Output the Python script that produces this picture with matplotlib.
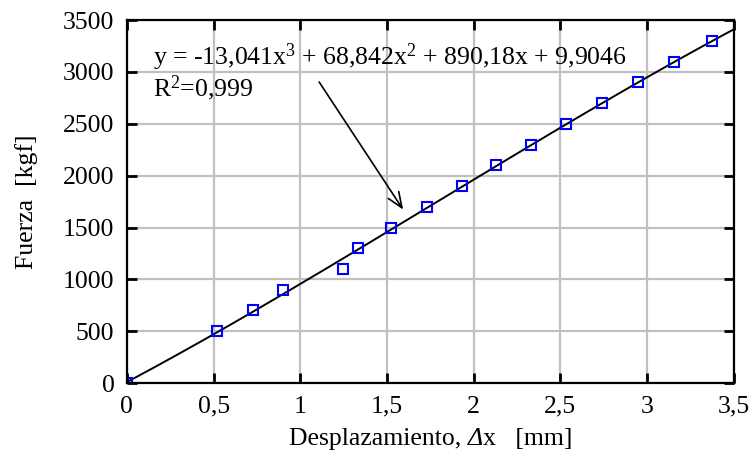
import matplotlib
matplotlib.use("Agg")
import matplotlib.pyplot as plt
import numpy as np
from matplotlib.ticker import FuncFormatter
from matplotlib.offsetbox import TextArea, HPacker, AnnotationBbox

plt.rcParams['font.family'] = ['Liberation Serif', 'DejaVu Serif']
plt.rcParams['mathtext.fontset'] = 'custom'
plt.rcParams['mathtext.rm'] = 'Liberation Serif'
plt.rcParams['mathtext.it'] = 'Liberation Serif:italic'

# Data
desplazamiento = [0.0, 0.518, 0.725, 0.898, 1.249, 1.330, 1.524, 1.729, 1.930,
                  2.128, 2.332, 2.535, 2.740, 2.949, 3.157, 3.375]
fuerza = [0, 500, 700, 900, 1100, 1300, 1500, 1700, 1900,
          2100, 2300, 2500, 2700, 2900, 3100, 3300]
coef = [-13.041, 68.842, 890.18, 9.9046]

x_ticks = [0, 0.5, 1, 1.5, 2, 2.5, 3, 3.5]
y_ticks = [0, 500, 1000, 1500, 2000, 2500, 3000, 3500]

fig = plt.figure(figsize=(7.51, 4.55), dpi=100)
ax = fig.add_axes([0.169, 0.158, 0.808, 0.798])

xf = np.linspace(0, 3.5, 300)
ax.plot(xf, np.polyval(coef, xf), color='black', lw=1.4, zorder=3)
ax.plot(desplazamiento, fuerza, linestyle='none', marker='s', markersize=6.5,
        markerfacecolor='none', markeredgecolor='#0000ff', markeredgewidth=1.5, zorder=4)

ax.set_xlim(0, 3.5)
ax.set_ylim(0, 3500)
ax.set_xticks(x_ticks)
ax.set_yticks(y_ticks)

def fmt(v, pos):
    s = ('%g' % v).replace('.', ',')
    return s
ax.xaxis.set_major_formatter(FuncFormatter(fmt))
ax.yaxis.set_major_formatter(FuncFormatter(fmt))

ax.grid(True, color='#c0c0c0', lw=1.6, zorder=0)
ax.set_axisbelow(True)
for sp in ax.spines.values():
    sp.set_linewidth(1.6)
    sp.set_zorder(5)
ax.tick_params(direction='in', length=7, width=2, top=True, right=True,
               labelsize=18.5, pad=9)

# x label with italic Delta
fs = 18.5
parts = [TextArea('Desplazamiento, ', textprops=dict(fontsize=fs)),
         TextArea('Δ', textprops=dict(fontsize=fs, fontstyle='italic')),
         TextArea('x   [mm]', textprops=dict(fontsize=fs))]
xlab = HPacker(children=parts, align='baseline', pad=0, sep=0)
ab = AnnotationBbox(xlab, (0.5, -0.155), xycoords='axes fraction',
                    frameon=False, box_alignment=(0.5, 0.5), annotation_clip=False)
ax.add_artist(ab)

ax.set_ylabel('Fuerza  [kgf]', fontsize=fs, labelpad=18)

ax.text(0.15, 2760, 'y = -13,041x$^3$ + 68,842x$^2$ + 890,18x + 9,9046\nR$^2$=0,999',
        fontsize=fs, ha='left', va='baseline', linespacing=1.05, zorder=6,
        multialignment='left')

ax.annotate('', xy=(1.602, 1650), xytext=(1.10, 2925),
            arrowprops=dict(arrowstyle='->,head_length=1.1,head_width=0.45',
                            color='black', lw=1.2), zorder=6)

fig.savefig('out.png', dpi=100)
